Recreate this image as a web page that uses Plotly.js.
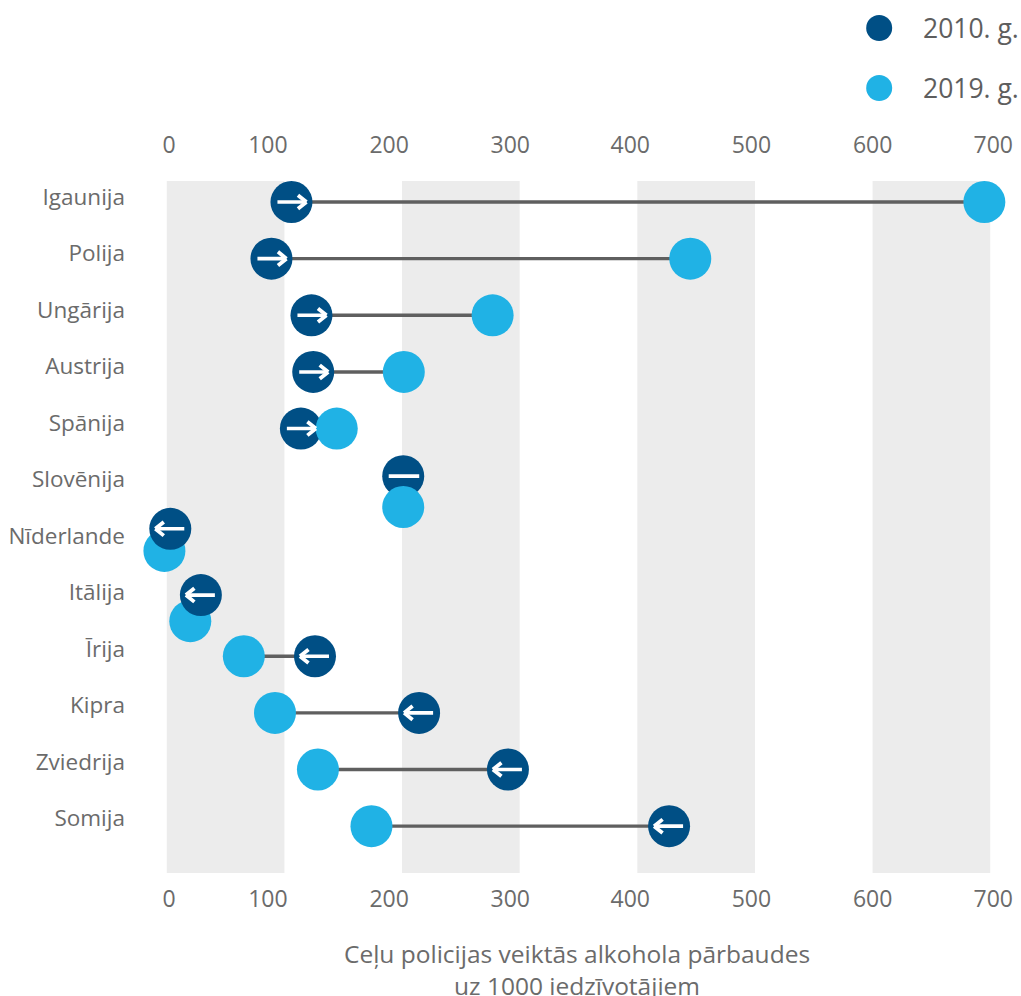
<!DOCTYPE html>
<html><head><meta charset="utf-8">
<script src="https://cdn.plot.ly/plotly-3.0.1.min.js"></script>
<style>html,body{margin:0;padding:0;background:#fff;overflow:hidden}</style>
</head><body><div id="chart" style="width:1021px;height:996px"></div>
<script>
const countries = ['Igaunija','Polija','Ungārija','Austrija','Spānija','Slovēnija','Nīderlande','Itālija','Īrija','Kipra','Zviedrija','Somija'];
const values2010 = [106, 89, 123, 124.5, 114, 201, 3, 29, 126, 214.5, 290, 427];
const values2019 = [695, 445, 277, 201.5, 144.5, 201, -2, 20, 65.5, 92, 128.5, 174];
const rows2010 = [0, 1, 2, 3, 4, 4.84, 5.77, 6.94, 8.02, 9.02, 10.02, 11.02];
const rows2019 = [0, 1, 2, 3, 4, 5.385, 6.16, 7.4, 8.02, 9.02, 10.02, 11.02];
const directions = [1,1,1,1,1,0,-1,-1,-1,-1,-1,-1];
const darkBelow = ['Spānija','Slovēnija'];
const tickLabels = ['0','100','200','300','400','500','600','700'];
const tickPlaces = [2, 86, 189, 292, 394, 497, 600, 702.6];
const bands = [[0,100],[200,300],[400,500],[600,700]];
const legendNames = ['2010. g.','2019. g.'];
const axisCaption = 'Ceļu policijas veiktās alkohola pārbaudes<br>uz 1000 iedzīvotājiem';

const DARK='#004f85', LIGHT='#20b2e5', TEXT='#6b6b6b', FONT='"Open Sans", sans-serif';
const W=1021,H=996;
const PXU=(990-167)/700, L=167-10*PXU, R=990+10*PXU, T=181, B=873;
const conX=[],conY=[];
countries.forEach((c,i)=>{conX.push(values2010[i],values2019[i],null);conY.push(rows2010[i],rows2019[i],null);});
const pick=(arr,f)=>arr.filter((_,i)=>f(countries[i]));
const below=c=>darkBelow.includes(c), above=c=>!darkBelow.includes(c);
const darkTrace=(f)=>({type:'scatter',mode:'markers',name:'2010. g.',showlegend:false,cliponaxis:false,
  x:pick(values2010,f),y:pick(rows2010,f),
  marker:{size:42,color:DARK,line:{width:0}},hoverinfo:'x+name'});
const traces=[
 {type:'scatter',mode:'lines',x:conX,y:conY,line:{color:'#5f5f5f',width:3.4},showlegend:false,hoverinfo:'skip',cliponaxis:false},
 darkTrace(below),
 {type:'scatter',mode:'markers',name:'2019. g.',x:values2019,y:rows2019,cliponaxis:false,showlegend:false,
  marker:{size:42,color:LIGHT,line:{width:0}},hoverinfo:'x+name'},
 darkTrace(above),
 {type:'scatter',mode:'markers',x:[0],y:[0],xaxis:'x2',marker:{opacity:0},showlegend:false,hoverinfo:'skip'}
];
const pxX=p=>(p-L)/(R-L), pxY=p=>1-(p-T)/(B-T);
const shapes=bands.map(b=>({type:'rect',xref:'x',yref:'paper',x0:b[0],x1:b[1],y0:0,y1:1,fillcolor:'#ececec',line:{width:0},layer:'below'}));
const annotations=[];
[[28,DARK],[88,LIGHT]].forEach((k,i)=>{
  shapes.push({type:'circle',xref:'paper',yref:'paper',xsizemode:'pixel',ysizemode:'pixel',xanchor:pxX(879),yanchor:pxY(k[0]),x0:-13,x1:13,y0:-13,y1:13,fillcolor:k[1],line:{width:0}});
  annotations.push({xref:'paper',yref:'paper',x:pxX(923),y:pxY(k[0]),xanchor:'left',yanchor:'middle',xshift:-2,showarrow:false,text:legendNames[i],font:{family:FONT,size:26.5,color:'#5e5e5e'}});
});
annotations.push({xref:'paper',yref:'paper',x:pxX(577),y:pxY(969),xanchor:'center',yanchor:'middle',showarrow:false,text:axisCaption,font:{family:FONT,size:24.5,color:TEXT},borderpad:0});
const stroke=(i,x1,y1,x2,y2,w)=>annotations.push({xref:'x',yref:'y',x:values2010[i],y:rows2010[i],text:' ',font:{size:1},showarrow:true,
    xshift:x2,yshift:-y2,ax:x1-x2,ay:y1-y2,axref:'pixel',ayref:'pixel',arrowcolor:'#fff',arrowwidth:w,arrowhead:0,standoff:0,startstandoff:0,captureevents:false});
countries.forEach((c,i)=>{
  const d=directions[i];
  if(d===0){stroke(i,-16,0,16,0,3.8);return;}
  stroke(i,-15.5*d,0,13*d,0,3.6);
  stroke(i,5*d,-8,15*d,0,3.8);
  stroke(i,5*d,8,15*d,0,3.8);
});
const xbase={range:[-10,710],tickmode:'array',tickvals:tickPlaces,ticktext:tickLabels,showgrid:false,zeroline:false,showline:false,ticks:'',
  tickfont:{family:FONT,size:23,color:TEXT}};
const layout={width:W,height:H,paper_bgcolor:'#fff',plot_bgcolor:'#fff',showlegend:false,hovermode:'closest',
  margin:{l:L,r:W-R,t:T,b:H-B,pad:0},
  xaxis:Object.assign({},xbase,{side:'bottom',ticklabelstandoff:10}),
  xaxis2:Object.assign({},xbase,{side:'top',overlaying:'x',ticklabelstandoff:22}),
  yaxis:{range:[11.847,-0.371],tickmode:'array',tickvals:countries.map((_,i)=>i*0.997-0.088),ticktext:countries,showgrid:false,zeroline:false,showline:false,ticks:'',
    ticklabelstandoff:29,tickfont:{family:FONT,size:22.5,color:TEXT},automargin:false},
  shapes,annotations};
Plotly.newPlot('chart',traces,layout,{displayModeBar:false,responsive:false});
</script></body></html>
